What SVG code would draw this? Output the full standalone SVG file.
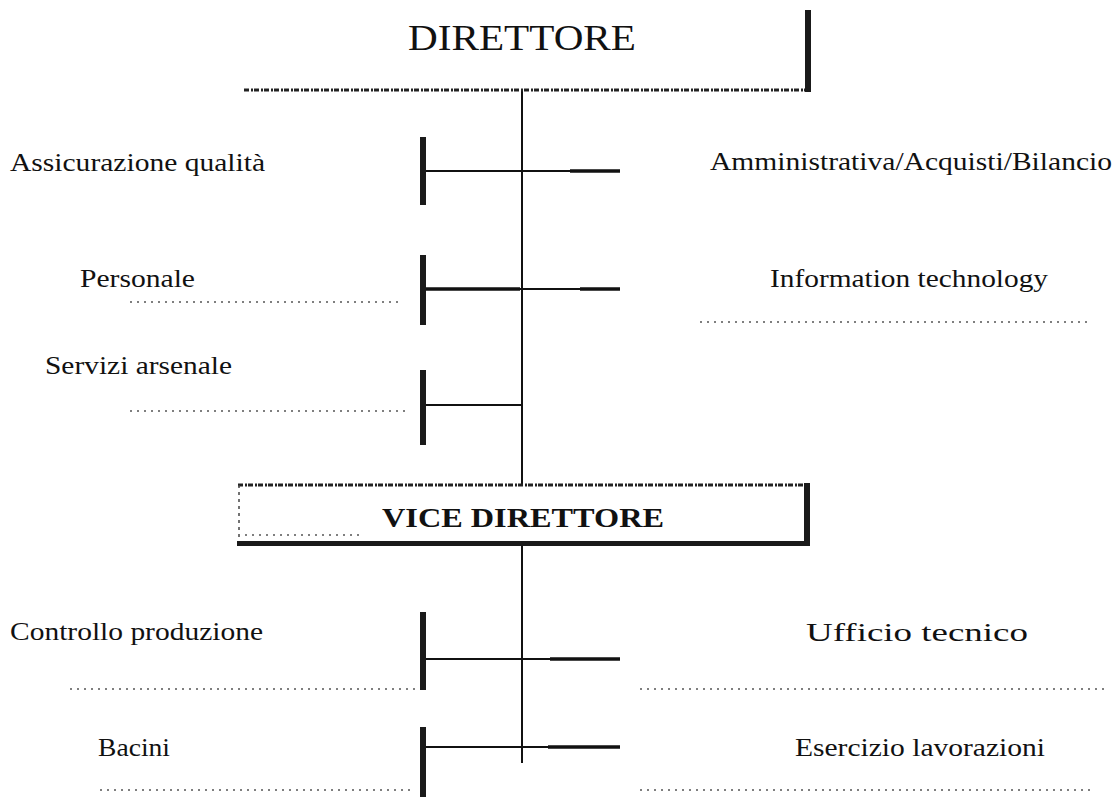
<svg xmlns="http://www.w3.org/2000/svg" width="1117" height="797" viewBox="0 0 1117 797">
<style>
.t{font-family:"Liberation Serif","Times New Roman",serif;font-size:26px;fill:#111}
.h{font-family:"Liberation Serif","Times New Roman",serif;font-size:36px;fill:#111}
.hb{font-family:"Liberation Serif","Times New Roman",serif;font-size:28px;font-weight:bold;fill:#111}
.br{fill:#1a1a1a}
.dot{stroke:#555;stroke-width:1.5;stroke-dasharray:2 5;fill:none}
.dotd{stroke:#222;stroke-width:3;stroke-dasharray:5 2 2 1;fill:none}
.c{stroke:#111;stroke-width:2;fill:none}
.ck{stroke:#111;stroke-width:3.5;fill:none}
</style>
<rect width="1117" height="797" fill="#fff"/>
<g id="connectors">
<line class="c" x1="522" y1="90" x2="522" y2="484"/>
<line class="c" x1="522" y1="545" x2="522" y2="763"/>
<line class="c" x1="425" y1="171" x2="580" y2="171"/>
<line class="ck" x1="570" y1="171" x2="620" y2="171"/>
<line class="ck" x1="425" y1="289" x2="520" y2="289"/>
<line class="c" x1="520" y1="289" x2="580" y2="289"/>
<line class="ck" x1="580" y1="289" x2="620" y2="289"/>
<line class="c" x1="425" y1="405" x2="522" y2="405"/>
<line class="c" x1="425" y1="659" x2="560" y2="659"/>
<line class="ck" x1="550" y1="659" x2="620" y2="659"/>
<line class="c" x1="425" y1="747" x2="560" y2="747"/>
<line class="ck" x1="548" y1="747" x2="620" y2="747"/>
</g>
<g id="direttore">
<line class="dotd" x1="244" y1="90" x2="810" y2="90"/>
<rect class="br" x="805" y="10" width="6" height="82"/>
<text class="h" x="522" y="50" text-anchor="middle" textLength="228" lengthAdjust="spacingAndGlyphs">DIRETTORE</text>
</g>
<g id="assicurazione">
<rect class="br" x="420" y="137" width="6" height="68"/>
<text class="t" x="10" y="171" textLength="255" lengthAdjust="spacingAndGlyphs">Assicurazione qualità</text>
</g>
<g id="amministrativa">
<text class="t" x="710" y="170" textLength="402" lengthAdjust="spacingAndGlyphs">Amministrativa/Acquisti/Bilancio</text>
</g>
<g id="personale">
<rect class="br" x="420" y="255" width="6" height="70"/>
<line class="dot" x1="130" y1="302" x2="400" y2="302"/>
<text class="t" x="80" y="287" textLength="115" lengthAdjust="spacingAndGlyphs">Personale</text>
</g>
<g id="information">
<line class="dot" x1="700" y1="322" x2="1090" y2="322"/>
<text class="t" x="770" y="287" textLength="278" lengthAdjust="spacingAndGlyphs">Information technology</text>
</g>
<g id="servizi">
<rect class="br" x="420" y="370" width="6" height="75"/>
<line class="dot" x1="130" y1="411" x2="410" y2="411"/>
<text class="t" x="45" y="374" textLength="187" lengthAdjust="spacingAndGlyphs">Servizi arsenale</text>
</g>
<g id="vice">
<line class="dotd" x1="238" y1="485" x2="808" y2="485"/>
<line stroke="#444" stroke-width="1.5" stroke-dasharray="3 4" x1="239" y1="485" x2="239" y2="545"/>
<rect class="br" x="237" y="541" width="573" height="5"/>
<rect class="br" x="804" y="483" width="6" height="63"/>
<line class="dot" x1="245" y1="535" x2="360" y2="535"/>
<text class="hb" x="523" y="527" text-anchor="middle" textLength="282" lengthAdjust="spacingAndGlyphs">VICE DIRETTORE</text>
</g>
<g id="controllo">
<rect class="br" x="420" y="612" width="6" height="78"/>
<line class="dot" x1="70" y1="689" x2="415" y2="689"/>
<text class="t" x="10" y="640" textLength="253" lengthAdjust="spacingAndGlyphs">Controllo produzione</text>
</g>
<g id="ufficio">
<line class="dot" x1="640" y1="689" x2="1105" y2="689"/>
<text class="t" x="806" y="641" textLength="222" lengthAdjust="spacingAndGlyphs">Ufficio tecnico</text>
</g>
<g id="bacini">
<rect class="br" x="420" y="727" width="6" height="70"/>
<line class="dot" x1="100" y1="790" x2="415" y2="790"/>
<text class="t" x="98" y="756" textLength="72" lengthAdjust="spacingAndGlyphs">Bacini</text>
</g>
<g id="esercizio">
<line class="dot" x1="640" y1="790" x2="1090" y2="790"/>
<text class="t" x="795" y="756" textLength="250" lengthAdjust="spacingAndGlyphs">Esercizio lavorazioni</text>
</g>
</svg>
